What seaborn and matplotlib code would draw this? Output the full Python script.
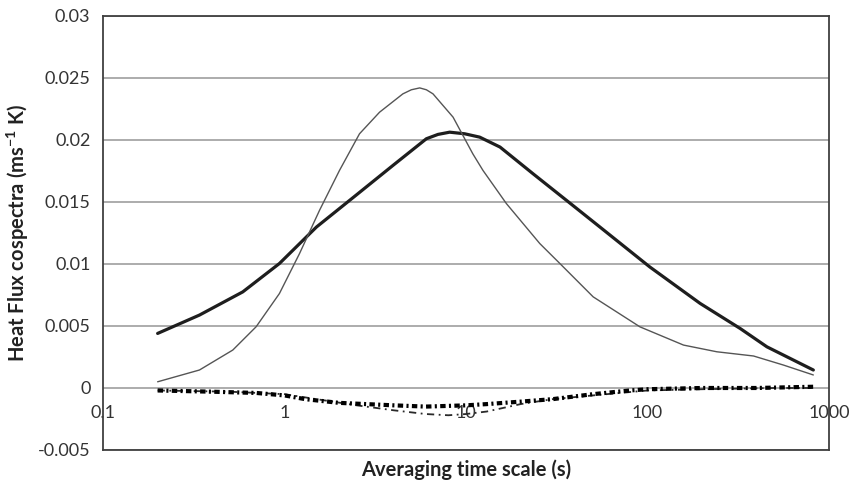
import matplotlib
matplotlib.use("Agg")
import matplotlib.pyplot as plt
import seaborn as sns

# Averaging time scale (s) and heat-flux cospectra (m s^-1 K) for each curve
thick_x = [0.2, 0.34, 0.589, 0.938, 1.50, 2.49, 3.96, 6.05, 7.01, 8.13, 9.84, 11.9,
           15.4, 23.4, 35.8, 54.7, 103, 195, 324, 455, 820]
thick_y = [0.0044, 0.00588, 0.00775, 0.01004, 0.01298, 0.01557, 0.01795, 0.0201,
           0.02045, 0.02063, 0.0205, 0.02023, 0.01943, 0.01728, 0.01513, 0.01298,
           0.00976, 0.00682, 0.0048, 0.00332, 0.00145]

thin_x = [0.2, 0.34, 0.519, 0.698, 0.938, 1.21, 1.56, 2.01, 2.59, 3.34, 4.49, 5.0,
          5.56, 6.05, 6.58, 8.49, 10.9, 12.4, 16.7, 25.5, 32.9, 50.2, 90.9, 158, 241,
          384, 561, 820]
thin_y = [0.0005, 0.00145, 0.00306, 0.00494, 0.00762, 0.01084, 0.01433, 0.01755,
          0.0205, 0.02224, 0.02372, 0.02405, 0.0242, 0.02405, 0.02372, 0.02184,
          0.01889, 0.01755, 0.01487, 0.01165, 0.01004, 0.00735, 0.00493, 0.00346,
          0.00292, 0.00258, 0.00185, 0.00105]

square_x = [0.2, 0.4, 0.7, 1.0, 1.3, 2.0, 4.0, 6.0, 10, 13, 20, 30, 50, 80, 100,
            200, 400, 820]
square_y = [-0.0002, -0.0003, -0.0004, -0.0006, -0.0009, -0.0012, -0.0014, -0.0015,
            -0.0014, -0.0013, -0.0011, -0.0009, -0.0005, -0.0002, -0.0001, 0.0,
            0.0, 0.0001]

dash_x = [0.2, 0.5, 1, 1.5, 2.5, 4, 6, 8, 10, 13, 20, 30, 50, 100, 200, 500, 820]
dash_y = [-0.0002, -0.0003, -0.0005, -0.0009, -0.0014, -0.0018, -0.0021, -0.0022,
          -0.0021, -0.0019, -0.0013, -0.0009, -0.0006, -0.0002, -0.0001, 0.0, 0.0]

y_ticks = [-0.005, 0, 0.005, 0.01, 0.015, 0.02, 0.025, 0.03]
y_tick_labels = ["-0.005", "0", "0.005", "0.01", "0.015", "0.02", "0.025", "0.03"]
x_ticks = [0.1, 1, 10, 100, 1000]
x_tick_labels = ["0.1", "1", "10", "100", "1000"]

sns.set_theme(style="white")
plt.rcParams["font.family"] = ["Lato", "DejaVu Sans"]
plt.rcParams["mathtext.fontset"] = "custom"
plt.rcParams["mathtext.rm"] = "Lato"
plt.rcParams["mathtext.bf"] = "Lato:bold"

fig = plt.figure(figsize=(8.54, 4.86), dpi=100)
ax = fig.add_axes([0.1206, 0.0741, 0.8501, 0.8930])

ymin, ymax = -0.005, 0.03
ax.set_xscale("log")
ax.set_xlim(0.1, 1000)
ax.set_ylim(ymin, ymax)

# horizontal gridlines (including the zero line)
ax.set_yticks(y_ticks)
ax.set_yticklabels(y_tick_labels)
ax.yaxis.grid(True, color="#a6a6a6", linewidth=1.3)
ax.xaxis.grid(False)
ax.set_axisbelow(True)

sns.lineplot(x=thick_x, y=thick_y, ax=ax, color="#1e1e1e", linewidth=2.3,
             sort=True, estimator=None)
sns.lineplot(x=thin_x, y=thin_y, ax=ax, color="#555555", linewidth=1.0,
             sort=True, estimator=None)
sns.lineplot(x=dash_x, y=dash_y, ax=ax, color="#2a2a2a", linewidth=1.3,
             sort=True, estimator=None)
ax.lines[-1].set_dashes([4, 2.5, 1, 2.5])
sns.lineplot(x=square_x, y=square_y, ax=ax, color="#000000", linewidth=3.0,
             sort=True, estimator=None)
ax.lines[-1].set_dashes([1.3, 0.8, 0.5, 0.8])
ax.lines[-1].set_dash_capstyle("butt")

# frame
for side in ["left", "right", "top", "bottom"]:
    ax.spines[side].set_visible(True)
    ax.spines[side].set_color("#404040")
    ax.spines[side].set_linewidth(1.3)

ax.tick_params(axis="y", length=0, pad=9, labelsize=13, labelcolor="#333333")
ax.tick_params(axis="x", which="both", length=0, labelbottom=False)
ax.xaxis.set_minor_locator(matplotlib.ticker.NullLocator())

# x tick labels sit just under the zero line
zero_frac = (0 - ymin) / (ymax - ymin)
sec = ax.secondary_xaxis(zero_frac)
sec.set_xscale("log")
sec.set_xticks(x_ticks)
sec.set_xticklabels(x_tick_labels)
sec.xaxis.set_minor_locator(matplotlib.ticker.NullLocator())
sec.tick_params(axis="x", which="both", length=0, pad=12, labelsize=13,
                labelcolor="#333333")
sec.spines["bottom"].set_visible(False)

ax.set_ylabel("Heat Flux cospectra (ms$^{\\mathbf{-1}}$ K)", fontsize=14.5,
              fontweight="bold", color="#222222", labelpad=5)
ax.set_xlabel("Averaging time scale (s)", fontsize=14.5, fontweight="bold",
              color="#222222", labelpad=7)

fig.savefig("out.png", dpi=100, facecolor="white")
